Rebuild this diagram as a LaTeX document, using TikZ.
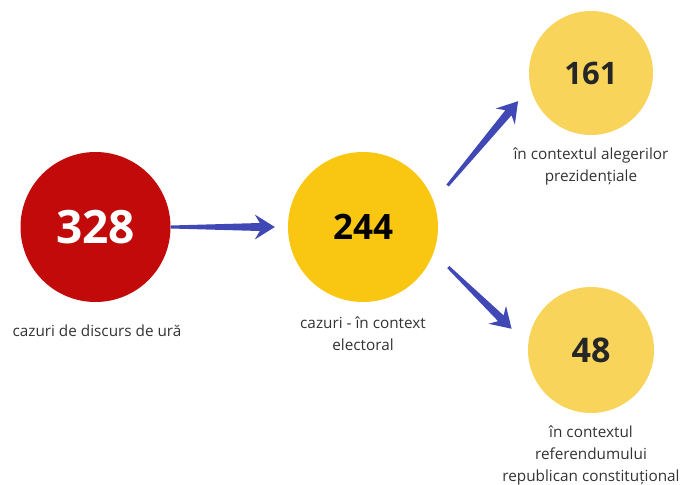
\documentclass[tikz,border=0pt]{standalone}
\usepackage{fontspec}
\setmainfont{Open Sans}
\usetikzlibrary{calc}
\definecolor{hatered}{HTML}{C20A0A}
\definecolor{electyellow}{HTML}{F9C712}
\definecolor{subyellow}{HTML}{F8D55A}
\definecolor{arrowblue}{HTML}{3F48B5}
\definecolor{labelgray}{HTML}{333333}

% tapered arrow between two named coordinates
\newcommand{\wedgearrow}[2]{%
  \fill[arrowblue] ($(#1)!1.5pt!90:(#2)$) -- ($($(#2)!15pt!(#1)$)!4pt!-90:(#1)$)
    -- ($($(#2)!20pt!(#1)$)!12.5pt!-90:(#1)$) -- (#2)
    -- ($($(#2)!20pt!(#1)$)!12.5pt!90:(#1)$) -- ($($(#2)!15pt!(#1)$)!4pt!90:(#1)$)
    -- ($(#1)!1.5pt!-90:(#2)$) -- cycle;}

\begin{document}
\begin{tikzpicture}[x=1pt, y=-1pt,
    count/.style={circle, inner sep=0pt, minimum size=#1},
    caption/.style={text=labelgray, font=\fontsize{15.3}{22}\selectfont, align=center}]

	\useasboundingbox (0,0) rectangle (681,485);

	% circles
	\node[count=150pt, fill=hatered, text=white, font=\fontsize{46}{46}\bfseries\selectfont] (c328) at (95.5,227) {328};
	\node[count=150pt, fill=electyellow, text=black, font=\fontsize{35}{35}\bfseries\selectfont] (c244) at (363,227) {244};
	\node[count=124pt, fill=subyellow, text=black!85, font=\fontsize{31}{31}\bfseries\selectfont] (c161) at (591,73) {161};
	\node[count=126pt, fill=subyellow, text=black!85, font=\fontsize{34}{34}\bfseries\selectfont] (c48) at (591,350) {48};

	% captions
	\node[caption] (t328) at (97,331) {cazuri de discurs de ură};
	\node[caption] (t244) at (363,334) {cazuri - în context\\electoral};
	\node[caption] (t161) at (591,166) {în contextul alegerilor\\prezidențiale};
	\node[caption] (t48) at (591,455) {în contextul\\referendumului\\republican constituțional};

	% arrow ends
	\coordinate (a1s) at (c328.east);
	\coordinate (a1t) at ([xshift=-13pt]c244.west);
	\coordinate (a2s) at ([shift={(26.6:19pt)}]c244.26.6);
	\coordinate (a2t) at ([shift={(201.7:16pt)}]c161.201.7);
	\coordinate (a3s) at ([shift={(-25.8:19pt)}]c244.-25.8);
	\coordinate (a3t) at ([shift={(165.1:19pt)}]c48.165.1);

	\wedgearrow{a1s}{a1t}
	\wedgearrow{a2s}{a2t}
	\wedgearrow{a3s}{a3t}

\end{tikzpicture}
\end{document}
